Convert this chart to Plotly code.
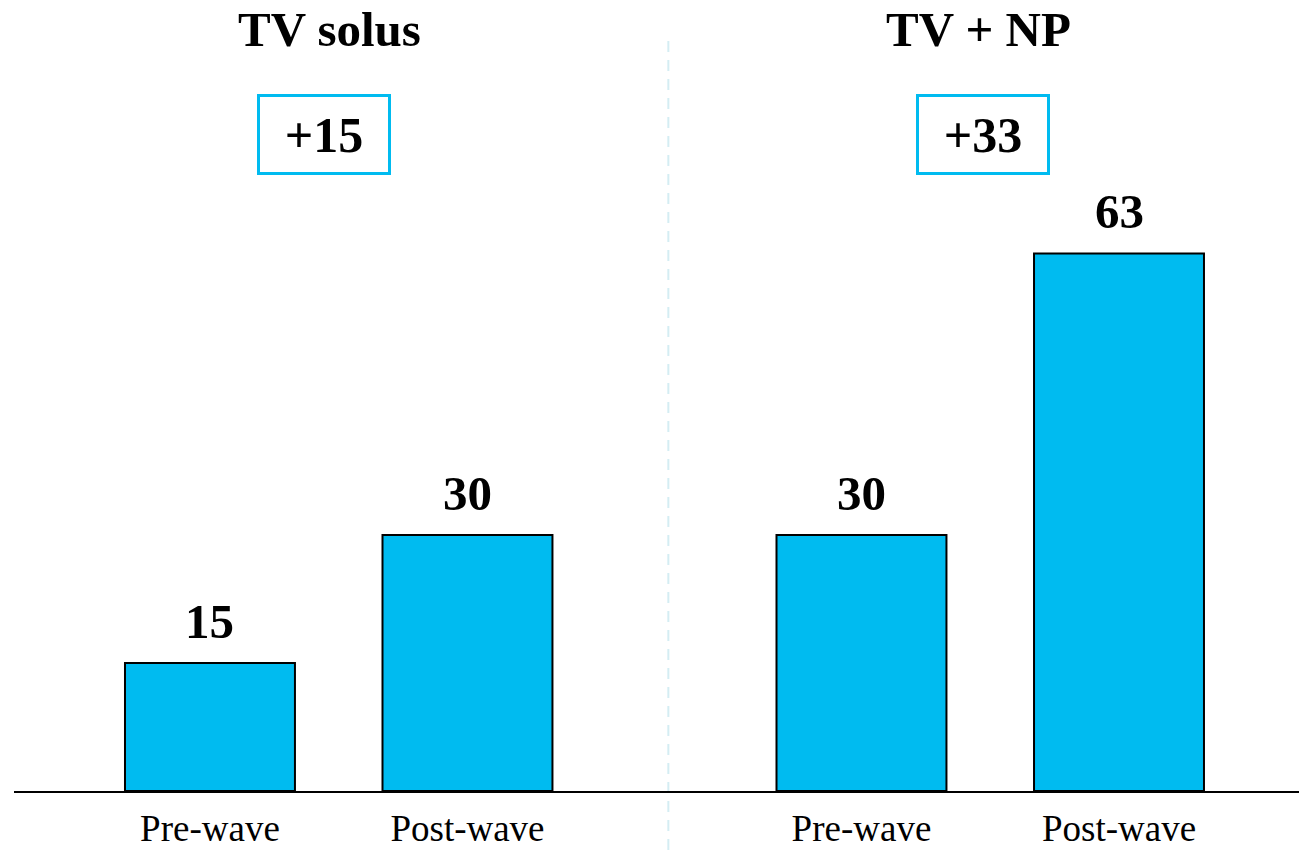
import plotly.graph_objects as go

# ---- data ----
groups = ["TV solus", "TV + NP"]
categories = ["Pre-wave", "Post-wave", "Pre-wave", "Post-wave"]
values = [15, 30, 30, 63]
uplifts = ["+15", "+33"]

# ---- layout constants ----
W, H = 1299, 850
ML, MR, MT, MB = 14, 0, 23, 59
YMAX = 90
positions = [0, 1, 2.53, 3.53]
XR = [-0.761, 4.229]
BAR_COLOR = "#00BBF0"
FONT = "Liberation Serif"

plot_h = H - MT - MB


def ypaper(px):
    return (H - MB - px) / plot_h


fig = go.Figure()
fig.add_trace(go.Bar(
    x=positions, y=values, width=0.66,
    marker=dict(color=BAR_COLOR, line=dict(color="black", width=2)),
    hoverinfo="skip",
))

# value labels
for xp, v in zip(positions, values):
    fig.add_annotation(x=xp, y=v, text=f"<b>{v}</b>", showarrow=False,
                       yanchor="bottom", yshift=12,
                       font=dict(family=FONT, size=49, color="black"))

# group titles and uplift boxes
title_x = [0.464, 2.984]
box_x = [0.443, 3.002]
for g, tx, bx, up in zip(groups, title_x, box_x, uplifts):
    fig.add_annotation(x=tx, xref="x", y=ypaper(29), yref="paper", text=f"<b>{g}</b>",
                       showarrow=False, yanchor="middle",
                       font=dict(family=FONT, size=49, color="black"))
    fig.add_annotation(x=bx, xref="x", y=ypaper(134.5), yref="paper", text=f"<b>{up}</b>",
                       showarrow=False, yanchor="middle", width=128, height=75,
                       bordercolor=BAR_COLOR, borderwidth=3, borderpad=0, bgcolor="white",
                       font=dict(family=FONT, size=50, color="black"))

# divider
fig.add_shape(type="line", xref="x", yref="paper", x0=1.78, x1=1.78,
              y0=ypaper(850), y1=ypaper(39),
              line=dict(color="#d4edf3", width=2, dash="11px,8px"), layer="below")

fig.update_layout(
    width=W, height=H, margin=dict(l=ML, r=MR, t=MT, b=MB, autoexpand=False),
    plot_bgcolor="white", paper_bgcolor="white", showlegend=False,
    font=dict(family=FONT, color="black"),
    xaxis=dict(range=XR, tickvals=positions, ticktext=categories, automargin=False,
               showline=True, linecolor="black", linewidth=2,
               showgrid=False, zeroline=False, ticks="", ticklabelstandoff=4,
               tickfont=dict(family=FONT, size=37, color="black")),
    yaxis=dict(range=[0, YMAX], visible=False, showgrid=False, zeroline=False,
               automargin=False),
)

fig.write_html("out.html", config={"displayModeBar": False},
               post_script="document.body.style.margin='0';document.body.style.overflow='hidden';")
